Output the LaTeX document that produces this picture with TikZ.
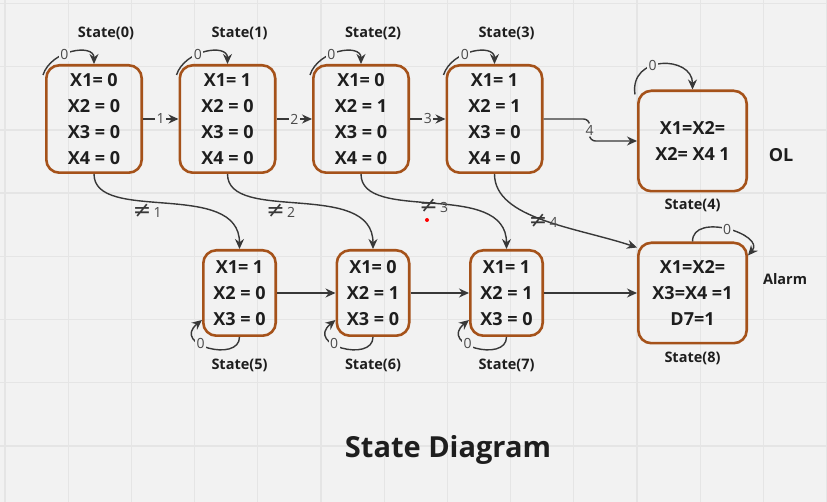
\documentclass[tikz,border=0pt]{standalone}
\usepackage{fontspec}
\setmainfont{Open Sans}
\newfontfamily\symfont{DejaVu Sans}
\usetikzlibrary{arrows.meta, positioning}
\definecolor{bgcol}{HTML}{F2F2F2}
\definecolor{gridcol}{HTML}{E5E5E5}
\definecolor{boxcol}{HTML}{A5521A}
\definecolor{inkcol}{HTML}{1E1E1E}
\definecolor{wirecol}{HTML}{383838}
\definecolor{labcol}{HTML}{4A4A4A}
\tikzstyle{bigstate} = [rectangle, rounded corners=13pt, draw=boxcol, line width=2.6pt, minimum width=95.4pt, minimum height=107.4pt, align=center, text=inkcol, inner sep=0pt, font=\fontsize{18}{26}\selectfont\bfseries]
\tikzstyle{smallstate} = [bigstate, minimum width=72.4pt, minimum height=85.4pt]
\tikzstyle{widestate} = [bigstate, minimum width=108.4pt, minimum height=100.4pt]
\tikzstyle{statename} = [text=inkcol, inner sep=0pt, font=\fontsize{14.5}{16}\selectfont\bfseries]
\tikzstyle{edgelabel} = [fill=bgcol, text=labcol, inner sep=1.5pt, font=\fontsize{14}{16}\selectfont]
\tikzstyle{notlabel} = [text=labcol, inner sep=1pt, font=\fontsize{14}{16}\selectfont]
\tikzstyle{arrow} = [draw=wirecol, line width=1.4pt, -{Stealth[length=10pt, width=9pt]}]
\newcommand{\notsign}{{\symfont\fontsize{22}{22}\selectfont\color{wirecol}≠}}

\begin{document}
\begin{tikzpicture}[x=1pt, y=1pt, node distance=133.5pt]
    % background and grid
    \fill[bgcol] (0,0) rectangle (827,-502);
    \useasboundingbox (0,0) rectangle (827,-502);
    \foreach \gx in {0,...,13}
        \draw[gridcol, line width=1.3pt] ({5+63.2*\gx},0) -- ++(0,-502);
    \foreach \gy in {0,...,7}
        \draw[gridcol, line width=1.3pt] (0,{-3.5-63.2*\gy}) -- ++(827,0);

    % top row
    \node (s0) [bigstate] at (94,-119) {X1= 0\\X2 = 0\\X3 = 0\\X4 = 0};
    \node (s1) [bigstate, right of=s0] {X1= 1\\X2 = 0\\X3 = 0\\X4 = 0};
    \node (s2) [bigstate, right of=s1] {X1= 0\\X2 = 1\\X3 = 0\\X4 = 0};
    \node (s3) [bigstate, right of=s2] {X1= 1\\X2 = 1\\X3 = 0\\X4 = 0};
    \node (s4) [widestate, right of=s3, xshift=64.5pt, yshift=-22pt] {X1=X2=\\X2= X4 1};

    % bottom row
    \node (s5) [smallstate, below of=s1, xshift=12pt, yshift=-40.5pt] {X1= 1\\X2 = 0\\X3 = 0};
    \node (s6) [smallstate, right of=s5] {X1= 0\\X2 = 1\\X3 = 0};
    \node (s7) [smallstate, right of=s6] {X1= 1\\X2 = 1\\X3 = 0};
    \node (s8) [widestate, right of=s7, xshift=52.5pt] {X1=X2=\\X3=X4 =1\\D7=1};

    % names
    \node (t0) [statename] at ([xshift=12pt, yshift=31pt]s0.north) {State(0)};
    \node (t1) [statename] at ([xshift=12pt, yshift=31pt]s1.north) {State(1)};
    \node (t2) [statename] at ([xshift=12pt, yshift=31pt]s2.north) {State(2)};
    \node (t3) [statename] at ([xshift=12pt, yshift=31pt]s3.north) {State(3)};
    \node (t4) [statename] at ([yshift=-13pt]s4.south) {State(4)};
    \node (t5) [statename] at ([yshift=-28pt]s5.south) {State(5)};
    \node (t6) [statename] at ([yshift=-28pt]s6.south) {State(6)};
    \node (t7) [statename] at ([yshift=-28pt]s7.south) {State(7)};
    \node (t8) [statename] at ([yshift=-14pt]s8.south) {State(8)};
    \node (ol) [statename, font=\fontsize{18}{20}\selectfont\bfseries] at ([xshift=33pt, yshift=-14pt]s4.east) {OL};
    \node (alarm) [statename] at ([xshift=37pt, yshift=13.5pt]s8.east) {Alarm};
    \node (title) [text=inkcol, anchor=base, font=\fontsize{29}{32}\selectfont\bfseries] at (448,-457) {State Diagram};

    % forward transitions
    \draw [arrow] (s0) -- node[edgelabel] {1} (s1);
    \draw [arrow] (s1) -- node[edgelabel] {2} (s2);
    \draw [arrow] (s2) -- node[edgelabel] {3} (s3);
    \draw [arrow, rounded corners=6pt] (s3.east) -- ++(46,0) |- node[edgelabel, pos=0.25] {4} (s4.west);
    \draw [arrow] (s5) -- (s6);
    \draw [arrow] (s6) -- (s7);
    \draw [arrow] (s7) -- (s8);

    % wrong input
    \draw [arrow] (s0.south) .. controls +(0,-50) and +(0,70) .. (s5.north)
        node[notlabel, pos=0.41, yshift=-9pt] {\notsign\,1};
    \draw [arrow] (s1.south) .. controls +(0,-50) and +(0,70) .. (s6.north)
        node[notlabel, pos=0.41, yshift=-9pt] {\notsign\,2};
    \draw [arrow] (s2.south) .. controls +(0,-50) and +(0,70) .. (s7.north)
        node[notlabel, pos=0.5, yshift=-2pt] {\notsign\,3};
    \draw [arrow] (s3.south) .. controls +(0,-45) and +(-60,20) .. ([yshift=-6pt]s8.north west)
        node[notlabel, pos=0.5, yshift=-1pt] {\notsign\,4};
    \fill[red] (427,-220) circle (2);

    % self loops
    \draw [arrow] ([xshift=-2pt, yshift=-11pt]s0.north west) .. controls +(8,25) and +(0,21) .. (s0.north) node[edgelabel, pos=0.4] {0};
    \draw [arrow] ([xshift=-2pt, yshift=-11pt]s1.north west) .. controls +(8,25) and +(0,21) .. (s1.north) node[edgelabel, pos=0.4] {0};
    \draw [arrow] ([xshift=-2pt, yshift=-11pt]s2.north west) .. controls +(8,25) and +(0,21) .. (s2.north) node[edgelabel, pos=0.4] {0};
    \draw [arrow] ([xshift=-2pt, yshift=-11pt]s3.north west) .. controls +(8,25) and +(0,21) .. (s3.north) node[edgelabel, pos=0.4] {0};
    \draw [arrow] ([xshift=-2pt, yshift=-5pt]s4.north west) .. controls +(-6,40) and +(0,34) .. (s4.north) node[edgelabel, pos=0.4] {0};
    \draw [arrow] (s5.south) .. controls +(0,-26) and +(-31,-25) .. ([yshift=-27pt]s5.west) node[edgelabel, pos=0.62] {0};
    \draw [arrow] (s6.south) .. controls +(0,-26) and +(-31,-25) .. ([yshift=-27pt]s6.west) node[edgelabel, pos=0.62] {0};
    \draw [arrow] (s7.south) .. controls +(0,-26) and +(-31,-25) .. ([yshift=-27pt]s7.west) node[edgelabel, pos=0.62] {0};
    \draw [arrow] (s8.north) .. controls +(0,30) and +(18,21) .. ([yshift=-14pt]s8.north east) node[edgelabel, pos=0.5] {0};
\end{tikzpicture}
\end{document}
